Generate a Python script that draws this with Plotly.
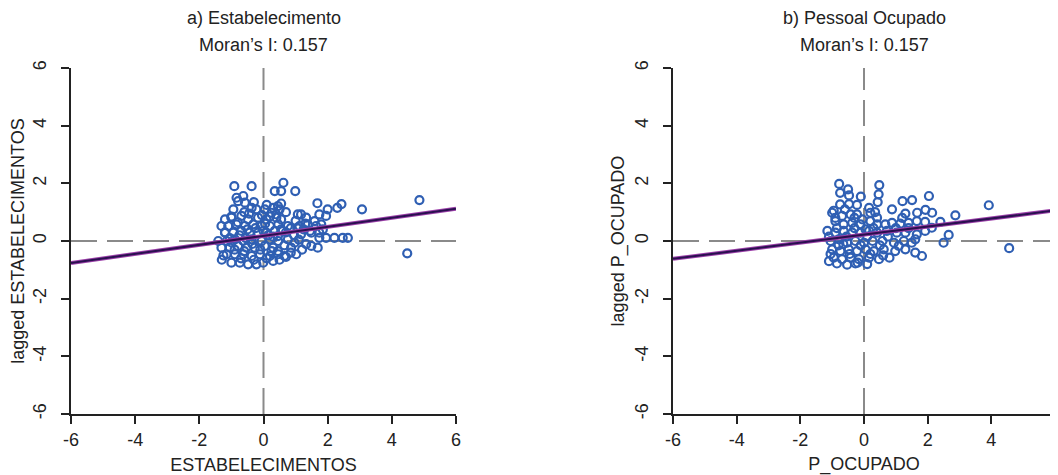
import plotly.graph_objects as go

# ---------------- data ----------------
estab_x = [-0.91, -0.37, 0.62, 0.35, 0.55, 0.99,
           -0.84, -0.63, -0.79, -0.58, -0.94, -0.37, -0.22, 0.04, 0.30, 0.25, 0.45, 0.50, 0.40,
           -1.20, -1.00, -0.69, -0.48, -0.17, 0.09, 0.40,
           -1.31, -1.10, -0.84, -0.58, -0.32, -0.06, 0.20, 0.46, 0.76, 0.55, 1.12, 1.38, 1.64, 1.80,
           -1.20, -0.94, -0.69, -0.43, -0.17, 0.09, 0.35, 0.60, 1.17, 1.49,
           -1.41, -1.15, -0.89, -0.63, -0.37, -0.06, 0.20, 0.46, 0.45, 0.76, 0.97, 1.74, 1.95, 2.21, 2.47, 2.63,
           -1.31, -1.05, -0.79, -0.53, -0.27, 0.04, 0.30, 0.45, 0.86, 1.49, 1.69, 1.33,
           -1.15, -0.89, -0.63, -0.37, -0.11, 0.20, 0.46, 0.65, 1.02,
           -1.00, -0.74, -0.48, -0.22, -0.01, 0.30, -1.30,
           1.68, 2.43, 2.30, 3.07, 4.86, 4.48, 2.00, 1.74, 1.17, 1.07, 1.33, 1.95, 1.59, 1.85, 1.74,
           -1.05, -0.75, -0.50, -0.25, 0.00, 0.15, -0.90, -0.60, -0.35, -0.10, 0.25, -1.25, -0.80, -0.45,
           -0.05, 0.20, 0.55, 0.70, 0.85, 0.95, 1.10, 1.25, 0.65, 0.85, 1.20, 0.50, 0.70, 1.00, 0.30,
           0.05, -0.55, -1.00, -0.70, -0.30, 0.10, -1.20, -1.00, -0.60, -0.30, 0.10, 0.55, 0.70, 1.30,
           1.45, 1.05]
estab_y = [1.90, 1.90, 2.02, 1.73, 1.73, 1.73,
           1.50, 1.56, 1.38, 1.33, 1.10, 1.15, 1.10, 1.10, 1.15, 0.98, 1.21, 1.10, 0.92,
           0.75, 0.81, 0.87, 0.75, 0.81, 0.75, 0.81,
           0.52, 0.52, 0.58, 0.52, 0.58, 0.52, 0.52, 0.58, 0.52, 0.40, 0.52, 0.58, 0.52, 0.58,
           0.29, 0.29, 0.35, 0.29, 0.29, 0.29, 0.35, 0.35, 0.23, 0.29,
           0.00, 0.00, 0.06, 0.00, 0.06, 0.00, 0.06, 0.00, 0.17, 0.06, -0.06, 0.11, 0.11, 0.11, 0.11, 0.11,
           -0.23, -0.23, -0.17, -0.23, -0.23, -0.17, -0.23, -0.35, -0.23, -0.17, -0.23, -0.11,
           -0.46, -0.46, -0.46, -0.52, -0.46, -0.52, -0.46, -0.52, -0.46,
           -0.75, -0.75, -0.81, -0.81, -0.75, -0.69, -0.65,
           1.31, 1.28, 1.15, 1.10, 1.42, -0.43, 1.10, 0.92, 0.92, 0.92, 0.81, 0.87, 0.69, 0.40, 0.29,
           0.10, 0.20, 0.40, 0.45, 0.35, 0.20, -0.30, -0.35, -0.10, -0.30, -0.35, -0.50, 0.65, 0.95,
           0.90, 0.85, 0.75, 0.30, 0.45, 0.20, 0.05, 0.40, -0.15, -0.40, -0.30, -0.65, -0.55, 0.70, 0.15,
           0.60, 0.10, -0.05, -0.60, -0.65, -0.60, 0.30, 0.85, 1.00, 1.35, 1.25, 1.30, 1.00, 0.60,
           0.35, 0.45]

pocup_x = [-0.78, 0.48, -0.75, -0.50, -0.47, -0.10, 0.46, 0.43, -0.75, -0.47, -0.22, 0.16,
           1.21, 1.51, 2.04, 3.92, 0.88, 1.30, 1.67, 1.93, 2.14, 2.87, 2.40, 2.66, 2.50, 4.56, 1.82, 0.80,
           -1.00, -0.69, -0.42, -0.22, 0.20, 0.41,
           -0.90, -0.64, -0.37, -0.11, 0.20, 0.41, 0.67, 0.88, 1.14, 1.40, 1.66, 1.92, 2.13,
           -1.15, -0.90, -0.64, -0.37, -0.11, 0.16, 0.41, 0.72, 1.03, 1.30, 1.66, 1.92,
           -1.05, -0.79, -0.53, -0.27, 0.00, 0.27, 0.58, 0.94, 1.25, 1.50, 1.61,
           -1.00, -0.74, -0.48, -0.22, 0.05, 0.31, 0.62, 0.98, 1.30, 1.61, 1.09,
           -0.95, -0.69, -0.42, -0.16, 0.16, 0.47,
           -0.85, -0.53, -0.27, 0.10, -1.10,
           -1.10, -0.85, -0.55, -0.30, -0.05, 0.10, 0.30, -0.80, -0.45, -0.10, 0.20, 0.50, 0.75, 1.00,
           1.20, -0.95, -0.60, -0.30, -1.05, -0.20, 0.05, 0.35, -0.65, -0.90, 0.60, 1.40]
pocup_y = [1.98, 1.94, 1.67, 1.79, 1.58, 1.54, 1.62, 1.35, 1.27, 1.28, 1.25, 1.15,
           1.38, 1.42, 1.56, 1.24, 1.10, 0.95, 0.98, 1.08, 0.98, 0.89, 0.66, 0.21, -0.06, -0.25, -0.52, -0.58,
           0.98, 0.87, 0.92, 0.92, 0.98, 0.81,
           0.69, 0.58, 0.63, 0.58, 0.69, 0.58, 0.58, 0.63, 0.60, 0.63, 0.69, 0.66, 0.46,
           0.35, 0.29, 0.35, 0.29, 0.29, 0.35, 0.29, 0.35, 0.29, 0.29, 0.23, 0.35,
           0.00, 0.06, -0.06, 0.00, -0.06, 0.00, 0.00, -0.06, 0.00, -0.06, 0.06,
           -0.29, -0.35, -0.29, -0.35, -0.29, -0.35, -0.29, -0.35, -0.29, -0.40, -0.17,
           -0.58, -0.63, -0.58, -0.63, -0.58, -0.63,
           -0.78, -0.82, -0.78, -0.80, -0.70,
           0.15, 0.45, 0.15, 0.45, 0.75, 0.15, 0.45, -0.15, -0.45, -0.15, -0.45, -0.15, 0.15, 0.45,
           0.80, 1.05, 1.10, 0.80, -0.45, -0.75, 0.40, 1.00, -0.10, 0.80, -0.50, 0.45]

fit_x = [-6, 6]
fit_estab_y = [-0.76, 1.12]
fit_pocup_y = [-0.62, 1.06]

title_lines_1 = ["a) Estabelecimento", "b) Pessoal Ocupado"]
title_lines_2 = ["Moran’s I: 0.157", "Moran’s I: 0.157"]
x_titles = ["ESTABELECIMENTOS", "P_OCUPADO"]
y_titles = ["lagged ESTABELECIMENTOS", "lagged P_OCUPADO"]
tick_vals = [-6, -4, -2, 0, 2, 4, 6]
tick_text = ["-6", "-4", "-2", "0", "2", "4", "6"]
ax_range = [-6, 6]

# ---------------- figure ----------------
FONT = "Liberation Sans, Arial, sans-serif"
OFF = 8                      # default page margin of the html body
W, H = 1058 - OFF, 475 - OFF
fig = go.Figure()
panels = [(estab_x, estab_y, fit_estab_y, "x", "y"), (pocup_x, pocup_y, fit_pocup_y, "x2", "y2")]
for px_, py_, fy, xa, ya in panels:
    fig.add_trace(go.Scatter(x=ax_range, y=[0, 0], mode="lines", xaxis=xa, yaxis=ya,
                             line=dict(color="#8a8a8a", width=2, dash="26px,10px"),
                             showlegend=False, hoverinfo="skip"))
    fig.add_trace(go.Scatter(x=[0, 0], y=ax_range, mode="lines", xaxis=xa, yaxis=ya,
                             line=dict(color="#8a8a8a", width=2, dash="26px,10px"),
                             showlegend=False, hoverinfo="skip"))
    fig.add_trace(go.Scatter(x=px_, y=py_, mode="markers", xaxis=xa, yaxis=ya,
                             marker=dict(symbol="circle-open", size=8, color="#2f5fb3",
                                         line=dict(width=2.2, color="#2f5fb3")),
                             showlegend=False))
    fig.add_trace(go.Scatter(x=fit_x, y=fy, mode="lines", xaxis=xa, yaxis=ya,
                             line=dict(color="#9b3fa8", width=4),
                             showlegend=False, hoverinfo="skip"))
    fig.add_trace(go.Scatter(x=fit_x, y=fy, mode="lines", xaxis=xa, yaxis=ya,
                             line=dict(color="#2a1050", width=2),
                             showlegend=False, hoverinfo="skip"))

axis_common = dict(range=ax_range, tickvals=tick_vals, ticktext=tick_text,
                   showgrid=False, zeroline=False, automargin=False,
                   showline=True, linecolor="#222", linewidth=2, ticks="outside",
                   ticklen=8, tickwidth=2, tickcolor="#222",
                   tickfont=dict(family=FONT, size=18, color="#222"))

# reference pixel positions of the plot areas (page coordinates)
x_domains = [[(71 - OFF) / W, (456 - OFF) / W], [(673 - OFF) / W, (1055 - OFF) / W]]
y_domain = [(H - (414 - OFF)) / H, (H - (68 - OFF)) / H]

fig.update_layout(
    width=W, height=H,
    margin=dict(l=0, r=0, t=0, b=0, autoexpand=False),
    paper_bgcolor="white", plot_bgcolor="white",
    font=dict(family=FONT, color="#222"),
    xaxis=dict(axis_common, domain=x_domains[0], anchor="y",
               title=dict(text=x_titles[0], font=dict(size=18, family=FONT), standoff=12)),
    yaxis=dict(axis_common, domain=y_domain, anchor="x", tickangle=-90, ticklabelstandoff=8,
               title=dict(text=y_titles[0], font=dict(size=18, family=FONT), standoff=2)),
    xaxis2=dict(axis_common, domain=x_domains[1], anchor="y2",
                title=dict(text=x_titles[1], font=dict(size=18, family=FONT), standoff=12)),
    yaxis2=dict(axis_common, domain=y_domain, anchor="x2", tickangle=-90, ticklabelstandoff=8,
                title=dict(text=y_titles[1], font=dict(size=18, family=FONT), standoff=2)),
)

for i in range(2):
    cx = (x_domains[i][0] + x_domains[i][1]) / 2
    fig.add_annotation(text=title_lines_1[i], x=cx, y=1 - (18 - OFF) / H, xref="paper", yref="paper",
                       xanchor="center", yanchor="middle", showarrow=False,
                       font=dict(family=FONT, size=18, color="#222"))
    fig.add_annotation(text=title_lines_2[i], x=cx, y=1 - (45 - OFF) / H, xref="paper", yref="paper",
                       xanchor="center", yanchor="middle", showarrow=False,
                       font=dict(family=FONT, size=18, color="#222"))

fig.write_html("out.html")
